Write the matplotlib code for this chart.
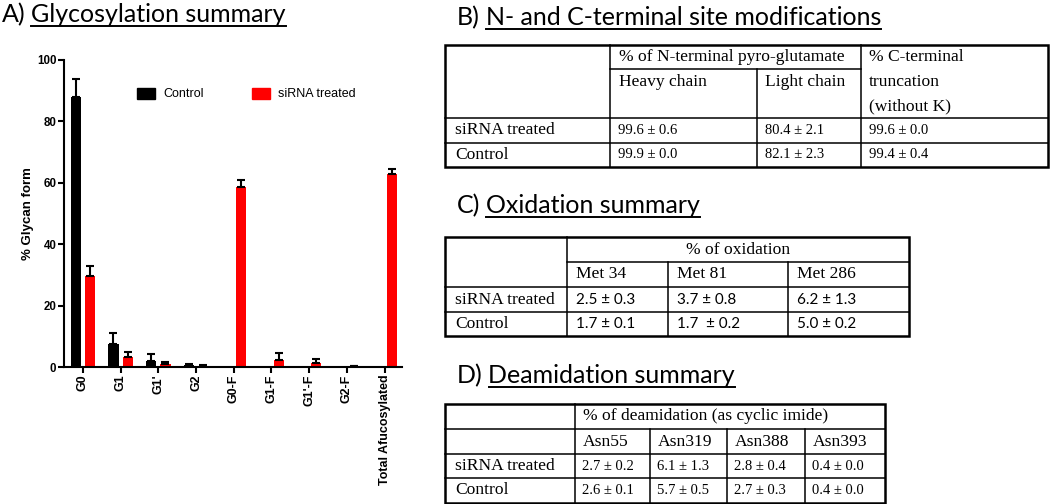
import numpy as np
import matplotlib
matplotlib.use('Agg')
import matplotlib.pyplot as plt
from matplotlib.patches import Rectangle, Patch

# Glycosylation data (% glycan form)
categories = ['G0', 'G1', "G1'", 'G2', 'G0-F', 'G1-F', "G1'-F", 'G2-F', 'Total Afucosylated']
control = [88.0, 7.5, 2.0, 0.6, 0, 0, 0, 0, 0]
control_err = [5.8, 3.7, 2.1, 0.5, 0, 0, 0, 0, 0]
sirna = [29.6, 3.2, 1.0, 0.4, 58.5, 2.3, 1.4, 0.3, 62.9]
sirna_err = [3.4, 1.6, 0.6, 0.3, 2.4, 2.4, 1.3, 0.1, 1.6]
yticks = [0, 20, 40, 60, 80, 100]

# table contents
groups = ['siRNA treated', 'Control']
nterm_heavy = ['99.6 ± 0.6', '99.9 ± 0.0']
nterm_light = ['80.4 ± 2.1', '82.1 ± 2.3']
cterm_trunc = ['99.6 ± 0.0', '99.4 ± 0.4']
ox_sites = ['Met 34', 'Met 81', 'Met 286']
ox_values = [['2.5 ± 0.3', '3.7 ± 0.8', '6.2 ± 1.3'],
             ['1.7 ± 0.1', '1.7  ± 0.2', '5.0 ± 0.2']]
deam_sites = ['Asn55', 'Asn319', 'Asn388', 'Asn393']
deam_values = [['2.7 ± 0.2', '6.1 ± 1.3', '2.8 ± 0.4', '0.4 ± 0.0'],
               ['2.6 ± 0.1', '5.7 ± 0.5', '2.7 ± 0.3', '0.4 ± 0.0']]

W, H = 1050, 504
fig = plt.figure(figsize=(W / 100, H / 100), dpi=100)
renderer = fig.canvas.get_renderer()

# overlay in pixel coordinates for titles and tables
lay = fig.add_axes([0, 0, 1, 1])
lay.set_xlim(0, W)
lay.set_ylim(H, 0)
lay.axis('off')

TITLE_FONT = 'Lato'
TITLE_SIZE = 18
SERIF = 'Liberation Serif'
HEAD_SIZE = 12.6
VAL_SIZE = 10.5


def title(x, y, prefix, text):
    t1 = lay.text(x, y, prefix, fontsize=TITLE_SIZE, family=TITLE_FONT, va='baseline')
    bb = t1.get_window_extent(renderer)
    x2 = bb.x1 + 0.23 * TITLE_SIZE * 100 / 72
    t2 = lay.text(x2, y, text, fontsize=TITLE_SIZE, family=TITLE_FONT, va='baseline')
    bb2 = t2.get_window_extent(renderer)
    lay.plot([bb2.x0, bb2.x1], [y + 4, y + 4], color='black', lw=1.4)


def cell(x, y, s, size=HEAD_SIZE, family=SERIF, ha='left'):
    lay.text(x, y, s, fontsize=size, family=family, ha=ha, va='center')


def frame(x0, y0, x1, y1):
    lay.add_patch(Rectangle((x0, y0), x1 - x0, y1 - y0, fill=False, lw=1.8, ec='black'))


def vline(x, y0, y1):
    lay.plot([x, x], [y0, y1], color='black', lw=1.1)


def hline(y, x0, x1):
    lay.plot([x0, x1], [y, y], color='black', lw=1.1)


# ---- A) bar chart ----
title(2, 22, 'A)', 'Glycosylation summary')

ax = fig.add_axes([64 / W, 1 - 367 / H, 338 / W, 307 / H])
x = np.arange(len(categories))
off, bw = 0.19, 0.27
ax.bar(x - off, control, width=bw, color='black', label='Control')
ax.bar(x + off, sirna, width=bw, color='#ff0000', label='siRNA treated')

c_idx = [i for i in x if control[i] > 0]
s_idx = [i for i in x if sirna[i] > 0]
ax.errorbar(x[c_idx] - off, np.array(control)[c_idx],
            yerr=[np.zeros(len(c_idx)), np.array(control_err)[c_idx]],
            fmt='none', ecolor='black', elinewidth=1.5, capsize=3, capthick=1.5)
ax.errorbar(x[s_idx] + off, np.array(sirna)[s_idx],
            yerr=[np.zeros(len(s_idx)), np.array(sirna_err)[s_idx]],
            fmt='none', ecolor='black', elinewidth=1.5, capsize=3, capthick=1.5)

ax.set_xlim(-0.5, 8.46)
ax.set_ylim(0, 100)
for side in ['top', 'right']:
    ax.spines[side].set_visible(False)
for side in ['left', 'bottom']:
    ax.spines[side].set_linewidth(1.5)
ax.tick_params(axis='both', direction='out', length=4, width=1.5, pad=1.5)
ax.set_yticks(yticks)
ax.set_yticklabels([str(v) for v in yticks], fontsize=8.3, fontweight='bold', family='Liberation Sans')
ax.set_xticks(x)
ax.set_xticklabels(categories, rotation=90, fontsize=9, fontweight='bold', family='Liberation Sans')
ax.set_ylabel('% Glycan form', fontsize=9.5, fontweight='bold', family='Liberation Sans', labelpad=2)

handles = [Patch(color='black'), Patch(color='#ff0000')]
ax.legend(handles, ['Control', 'siRNA treated'], ncol=2, frameon=False,
          loc='center left', bbox_to_anchor=(0.215, 0.889), borderpad=0, borderaxespad=0,
          handlelength=1.45, handleheight=0.95, handletextpad=0.7, columnspacing=3.8,
          prop={'family': 'Liberation Sans', 'size': 9})

# ---- B) N- and C-terminal table ----
title(457, 25, 'B)', 'N- and C-terminal site modifications')
bx = [445, 610, 757, 861, 1048]
by = [45, 69, 118, 143, 167]
frame(bx[0], by[0], bx[-1], by[-1])
vline(bx[1], by[0], by[-1])
vline(bx[2], by[1], by[-1])
vline(bx[3], by[0], by[-1])
hline(by[1], bx[1], bx[3])
hline(by[2], bx[0], bx[-1])
hline(by[3], bx[0], bx[-1])
cell(bx[1] + 9, 57, '% of N-terminal pyro-glutamate')
cell(bx[1] + 9, 82, 'Heavy chain')
cell(bx[2] + 8, 82, 'Light chain')
for k, line in enumerate(['% C-terminal', 'truncation', '(without K)']):
    cell(bx[3] + 8, 57 + 24.5 * k, line)
for r, g in enumerate(groups):
    yc = (by[2 + r] + by[3 + r]) / 2
    cell(bx[0] + 10, yc, g)
    cell(bx[1] + 8, yc, nterm_heavy[r], size=VAL_SIZE)
    cell(bx[2] + 8, yc, nterm_light[r], size=VAL_SIZE)
    cell(bx[3] + 8, yc, cterm_trunc[r], size=VAL_SIZE)

# ---- C) Oxidation table ----
title(457, 213, 'C)', 'Oxidation summary')
cx = [445, 567, 668, 788, 909]
cy = [237, 262, 287, 312, 336]
frame(cx[0], cy[0], cx[-1], cy[-1])
vline(cx[1], cy[0], cy[-1])
for xv in cx[2:-1]:
    vline(xv, cy[1], cy[-1])
hline(cy[1], cx[1], cx[-1])
hline(cy[2], cx[0], cx[-1])
hline(cy[3], cx[0], cx[-1])
cell((cx[1] + cx[-1]) / 2, (cy[0] + cy[1]) / 2, '% of oxidation', ha='center')
for j, s in enumerate(ox_sites):
    cell(cx[1 + j] + 9, (cy[1] + cy[2]) / 2, s)
for r, g in enumerate(groups):
    yc = (cy[2 + r] + cy[3 + r]) / 2
    cell(cx[0] + 10, yc, g)
    for j in range(len(ox_sites)):
        cell(cx[1 + j] + 9, yc, ox_values[r][j], size=11, family='Lato')

# ---- D) Deamidation table ----
title(457, 383, 'D)', 'Deamidation summary')
dx = [445, 575, 650, 727, 805, 885]
dy = [404, 429, 454, 478, 503]
frame(dx[0], dy[0], dx[-1], dy[-1])
vline(dx[1], dy[0], dy[-1])
for xv in dx[2:-1]:
    vline(xv, dy[1], dy[-1])
for yv in dy[1:-1]:
    hline(yv, dx[0], dx[-1])
cell(dx[1] + 8, (dy[0] + dy[1]) / 2, '% of deamidation (as cyclic imide)')
for j, s in enumerate(deam_sites):
    cell(dx[1 + j] + 8, (dy[1] + dy[2]) / 2, s)
for r, g in enumerate(groups):
    yc = (dy[2 + r] + dy[3 + r]) / 2
    cell(dx[0] + 10, yc, g)
    for j in range(len(deam_sites)):
        cell(dx[1 + j] + 7, yc, deam_values[r][j], size=VAL_SIZE)

fig.savefig('out.png', dpi=100)
